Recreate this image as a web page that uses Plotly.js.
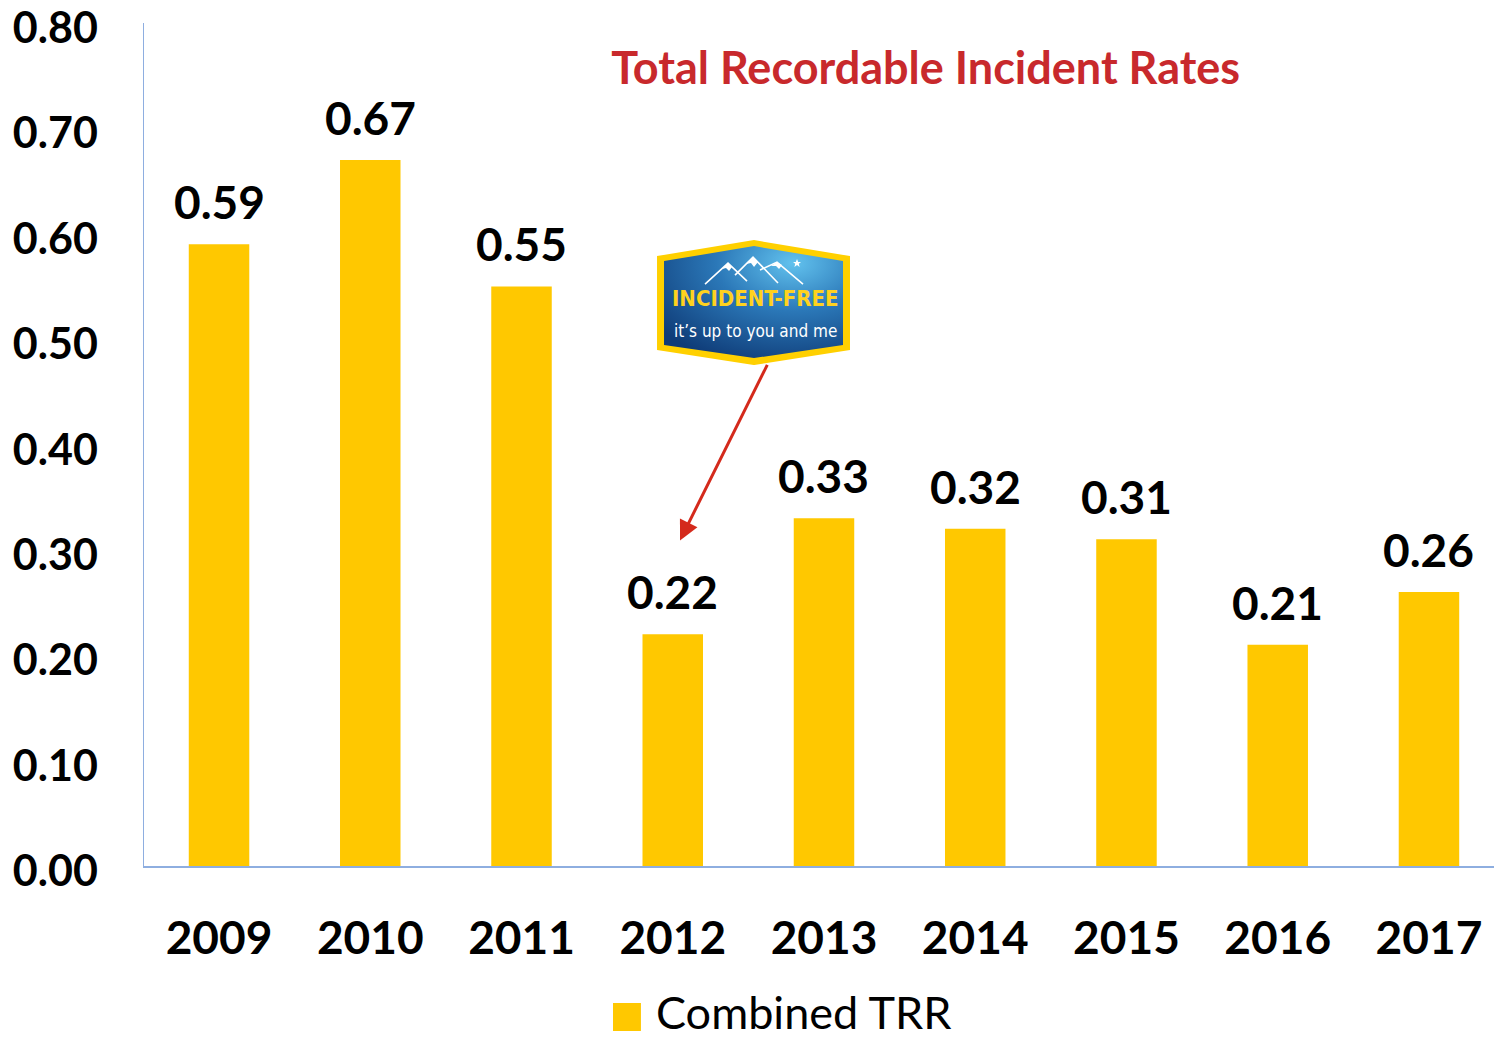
<!DOCTYPE html>
<html>
<head>
<meta charset="utf-8">
<script src="https://cdn.plot.ly/plotly-3.0.1.min.js"></script>
<style>html,body{margin:0;padding:0;background:#fff;}#chart{width:1494px;height:1041px;}</style>
</head>
<body>
<div id="chart"></div>
<script>
const years = ['2009','2010','2011','2012','2013','2014','2015','2016','2017'];
const trr = [0.59, 0.67, 0.55, 0.22, 0.33, 0.32, 0.31, 0.21, 0.26];
const seriesName = 'Combined TRR';
const chartTitle = 'Total Recordable Incident Rates';
const badgeTitle = 'INCIDENT-FREE';
const badgeSub = 'it’s up to you and me';

const BAR = '#ffc800';
const AXIS = '#8eaee0';
const FONT = 'Lato, "Open Sans", sans-serif';
const NARROW = '"Liberation Sans Narrow", "DejaVu Sans Condensed", "Liberation Sans", sans-serif';

const badgeSvg = `<svg xmlns="http://www.w3.org/2000/svg" viewBox="0 0 193 125" width="193" height="125">
<defs>
<radialGradient id="g" cx="0.72" cy="0.15" r="0.95" fx="0.72" fy="0.15">
<stop offset="0" stop-color="#62c2ee"/>
<stop offset="0.45" stop-color="#2b78b8"/>
<stop offset="1" stop-color="#0f3c78"/>
</radialGradient>
</defs>
<polygon points="0,16 97,0 193,16 193,110 97,125 0,110" fill="#ffd000"/>
<polygon points="7,21 97,6 186,21 186,105 97,118 7,105" fill="url(#g)"/>
<g fill="none" stroke="#ffffff" stroke-width="1.6" stroke-linejoin="miter">
<polyline points="48,44 71,23 90,41"/>
<polyline points="78,35 96,17 121,43"/>
<polyline points="103,30 120,22 146,44"/>
</g>
<g fill="#ffffff">
<polygon points="71,23 65,29 69,28 72,31 75,27"/>
<polygon points="96,17 89,24 94,23 97,27 101,22"/>
<polygon points="120,22 114,26 119,26 122,29 125,25"/>
<polygon points="140,19 141.2,22 144,22 141.8,23.8 142.6,27 140,25 137.4,27 138.2,23.8 136,22 138.8,22"/>
</g>
</svg>`;
const badgeSrc = 'data:image/svg+xml;base64,' + btoa(unescape(encodeURIComponent(badgeSvg)));

const bars = {
  type: 'bar',
  x: years,
  y: trr,
  name: seriesName,
  marker: {color: BAR},
  width: 0.4,
  hoverinfo: 'x+y',
  showlegend: false
};

const labelAnns = years.map((yr, i) => ({
  x: i, y: trr[i], xref: 'x', yref: 'y',
  text: trr[i].toFixed(2),
  showarrow: false, yanchor: 'bottom', yshift: 13,
  font: {family: FONT, size: 46, color: '#000', weight: 700}
}));

const layout = {
  width: 1494, height: 1041,
  margin: {l: 144, r: 0, t: 23, b: 175},
  paper_bgcolor: '#ffffff', plot_bgcolor: '#ffffff',
  showlegend: false,
  title: {
    text: chartTitle,
    x: 0.579, xref: 'paper', xanchor: 'center',
    y: 0.934, yref: 'container', yanchor: 'middle',
    font: {family: FONT, size: 45, color: '#c8292c', weight: 700}
  },
  xaxis: {
    type: 'category',
    range: [-0.496, 8.43],
    showline: true, linecolor: AXIS, linewidth: 1.5,
    showgrid: false, zeroline: false, ticks: '',
    ticklabelstandoff: 31,
    tickfont: {family: FONT, size: 46, color: '#000', weight: 700}
  },
  yaxis: {
    range: [0, 0.80001], dtick: 0.1, tick0: 0, tickformat: '.2f',
    showline: true, linecolor: AXIS, linewidth: 1.5,
    showgrid: false, zeroline: false, ticks: '',
    ticklabelstandoff: 36, ticklabelshift: 5, ticklabeloverflow: 'allow',
    tickfont: {family: FONT, size: 43, color: '#000', weight: 700}
  },
  images: [{
    source: badgeSrc, xref: 'x', yref: 'y',
    x: 2.896, y: 0.594, sizex: 1.276, sizey: 0.1186,
    xanchor: 'left', yanchor: 'top', sizing: 'stretch', layer: 'above'
  }],
  shapes: [{
    type: 'rect', xref: 'paper', yref: 'paper',
    x0: 0.3474, x1: 0.3681, y0: -0.1957, y1: -0.1625,
    fillcolor: BAR, line: {width: 0}
  }],
  annotations: labelAnns.concat([
    {
      x: 3.544, y: 0.5385, xref: 'x', yref: 'y', showarrow: false,
      text: badgeTitle, xanchor: 'center', yanchor: 'middle',
      font: {family: NARROW, size: 22, color: '#ffd21e', weight: 700}
    },
    {
      x: 3.544, y: 0.5075, xref: 'x', yref: 'y', showarrow: false,
      text: badgeSub, xanchor: 'center', yanchor: 'middle',
      font: {family: NARROW, size: 17, color: '#ffffff'}
    },
    {
      x: 3.048, y: 0.309, xref: 'x', yref: 'y',
      ax: 3.630, ay: 0.477, axref: 'x', ayref: 'y',
      text: '', showarrow: true, arrowhead: 2, arrowsize: 1.3,
      arrowwidth: 3, arrowcolor: '#d42a1c'
    },
    {
      x: 0.378, y: -0.173, xref: 'paper', yref: 'paper', showarrow: false,
      text: seriesName, xanchor: 'left', yanchor: 'middle',
      font: {family: FONT, size: 45, color: '#000'}
    }
  ])
};

Plotly.newPlot('chart', [bars], layout, {displayModeBar: false, staticPlot: true});
</script>
</body>
</html>
